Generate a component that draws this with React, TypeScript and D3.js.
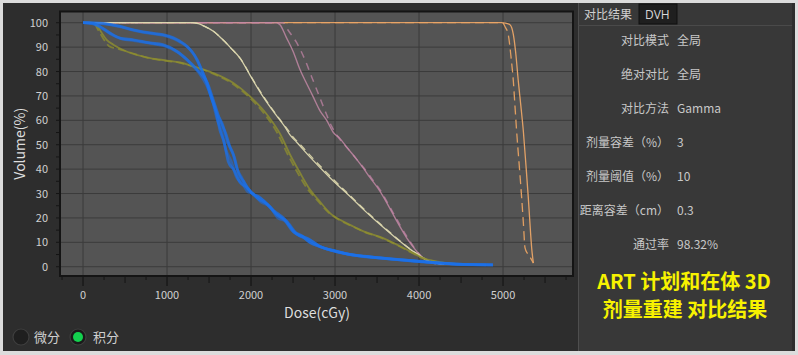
import React from "react";
import * as d3 from "d3";

type Pt = [number, number];

const xTicks = [0, 1000, 2000, 3000, 4000, 5000];
const yTicks = [0, 10, 20, 30, 40, 50, 60, 70, 80, 90, 100];

const blueUpper: Pt[] = [[0,100],[200,99.8],[400,98.8],[600,97.1],[800,95.8],[950,95.1],[1070,93.9],[1150,92.5],[1240,90.3],[1300,88],[1360,84.8],[1420,80],[1480,75],[1530,69],[1580,64],[1630,56],[1680,51],[1730,43],[1800,39.5],[1870,34.5],[1950,32.5],[2010,30.2],[2100,27.5],[2200,25.5],[2300,21.5],[2400,19],[2500,14.5],[2600,12.8],[2700,10],[2820,8.3],[2950,6.8],[3140,5.3],[3350,4.3],[3540,3.6],[3800,2.8],[4010,2.2],[4250,1.5],[4450,1.1],[4700,0.9],[4880,0.8]];
const blueUpper2: Pt[] = [[0,100],[220,99.6],[420,98.5],[620,96.8],[820,95.5],[960,94.8],[1080,93.4],[1160,92],[1250,89.8],[1320,87],[1380,83],[1440,78.5],[1500,72],[1545,67.5],[1600,60],[1645,56],[1700,48],[1760,43.5],[1830,36.5],[1900,34],[1970,30.5],[2010,30.2],[2120,26.5],[2230,24.5],[2320,20],[2420,18.5],[2520,13.8],[2620,12.2],[2720,9.6],[2840,8],[2980,6.5],[3160,5.1],[3540,3.5],[4010,2.1],[4450,1.1],[4880,0.8]];
const blueLower: Pt[] = [[0,100],[100,99.8],[200,98.5],[320,95.8],[440,93.7],[600,93],[800,91.7],[950,91],[1120,88.2],[1240,84.8],[1360,80.7],[1480,75.4],[1550,68.4],[1630,60.2],[1700,54.5],[1750,49],[1800,45],[1850,38.4],[1920,34.5],[2010,30.2],[2100,28.5],[2270,23],[2400,19.5],[2540,13.5],[2680,11.5],[2820,8.3],[3000,6.5],[3140,5.3],[3540,3.6],[4010,2.2],[4450,1.1],[4880,0.8]];
const blueLower2: Pt[] = [[0,100],[120,99.5],[230,97.6],[340,95.2],[460,93.4],[620,92.6],[820,91.4],[970,90.5],[1140,87.6],[1260,84],[1380,79.5],[1470,74.5],[1520,70.5],[1590,63],[1660,58.5],[1720,51],[1780,47],[1830,40.5],[1890,36.5],[1960,32],[2010,30.2],[2150,27],[2290,22],[2420,18.8],[2560,13],[2700,11],[2840,8],[3020,6.3],[3160,5.2],[3540,3.5],[4010,2.1],[4450,1.0],[4800,0.8]];

const oliveSolid: Pt[] = [[0,100],[100,100],[163,99.2],[220,96],[282,93],[361,91],[520,88.2],[800,85.5],[1000,84.5],[1155,83.7],[1313,82.1],[1550,79.4],[1790,75.3],[1988,69.8],[2187,62.5],[2345,54.5],[2464,46],[2583,38.5],[2702,31.6],[2800,27.5],[2940,22],[3100,18.5],[3218,16.5],[3340,14.5],[3536,12.2],[3655,10.4],[3800,8],[3933,5.6],[4050,3.5],[4200,2.2],[4400,1.3],[4550,1]];
const oliveDashed: Pt[] = [[0,100],[120,100],[190,96.5],[260,92.5],[320,90.2],[420,89.3],[560,87.8],[820,85.2],[1010,84.3],[1160,83.5],[1320,81.9],[1540,79.2],[1770,75.2],[1960,70],[2150,63],[2310,55],[2430,46.5],[2550,38.8],[2670,32],[2780,27.6],[2920,22.3],[3080,18.6],[3210,16.5],[3340,14.4],[3536,12],[3660,10.2],[3800,7.8],[3930,5.4],[4050,3.4],[4200,2.1],[4400,1.2],[4550,1]];

const creamSolid: Pt[] = [[0,100],[1300,100],[1353,99.8],[1450,98.5],[1552,96.5],[1650,93.5],[1750,90],[1869,85.5],[1988,78.5],[2147,69.5],[2306,61.8],[2400,57.5],[2464,54],[2544,51],[2700,45],[2940,36.5],[3218,27.5],[3337,23.5],[3496,18.5],[3734,11.5],[3900,7],[4012,4.5],[4100,2.5],[4200,1.5],[4300,1]];
const creamDashed: Pt[] = [[0,100],[1310,100],[1360,99.7],[1460,98.3],[1560,96.3],[1660,93.2],[1760,89.6],[1880,85],[2000,78],[2160,69.2],[2330,61],[2430,56.5],[2500,53.2],[2580,50.3],[2740,44.3],[2980,35.8],[3250,26.8],[3370,22.8],[3530,17.8],[3760,11],[3920,6.6],[4030,4.2],[4110,2.4],[4200,1.5],[4300,1]];

const pinkSolid: Pt[] = [[0,100],[2300,100],[2345,99.2],[2420,94],[2504,88],[2580,81],[2663,75],[2742,69.5],[2820,64],[2901,60],[2980,55],[3060,52.5],[3139,49],[3258,44],[3337,40.4],[3417,36.5],[3536,30.9],[3620,26],[3694,21.3],[3780,16],[3853,11.8],[3972,6.3],[4050,3.5],[4120,2],[4200,1.2]];
const pinkDashed: Pt[] = [[0,100],[2380,100],[2440,97],[2540,92],[2640,85],[2720,78],[2800,71],[2880,64],[2960,57.5],[3040,53],[3139,49],[3258,44],[3337,40.8],[3430,36.5],[3536,31.5],[3694,22],[3853,12.5],[3972,6.5],[4050,3.5],[4200,1.2]];

const orangeSolid: Pt[] = [[0,100],[4980,100],[5030,99.8],[5083,99.2],[5123,95.1],[5150,88],[5182,76],[5212,66],[5242,55.5],[5272,42],[5301,28.2],[5320,18],[5341,7.7],[5361,1.5]];
const orangeDashed: Pt[] = [[0,100],[4990,100],[5030,98],[5063,95],[5095,86],[5123,76],[5142,66],[5162,55.5],[5192,42],[5222,28.2],[5242,18],[5262,7.7],[5290,5.5],[5321,4],[5361,1.5]];

const infoLabels = ["对比模式", "绝对对比", "对比方法", "剂量容差（%）", "剂量阈值（%）", "距离容差（cm）", "通过率"];
const infoValues = ["全局", "全局", "Gamma", "3", "10", "0.3", "98.32%"];

const W = 798, H = 355;
const plot = { left: 60, top: 11.5, right: 573, bottom: 276 };
const x = d3.scaleLinear().domain([-274, 5833]).range([plot.left, plot.right]);
const y = d3.scaleLinear().domain([-3.8, 104.6]).range([plot.bottom, plot.top]);
const line = d3.line<Pt>().x(d => x(d[0])).y(d => y(d[1])).curve(d3.curveMonotoneX);

const FONT = "'Noto Sans CJK SC', 'Noto Sans', sans-serif";

export default function App() {
  const minorX = d3.range(-250, 5834, 250).filter(v => v % 1000 !== 0);
  const minorY = d3.range(5, 101, 10);
  const series: { d: Pt[]; c: string; w: number; o: number; dash?: string }[] = [
    { d: orangeDashed, c: "#e8a262", w: 1.3, o: 0.95, dash: "9,5" },
    { d: orangeSolid, c: "#eaa567", w: 1.3, o: 0.95 },
    { d: pinkDashed, c: "#b8809f", w: 1.5, o: 0.8, dash: "7,6" },
    { d: pinkSolid, c: "#c58aa8", w: 1.4, o: 0.8 },
    { d: creamDashed, c: "#d9d4a6", w: 1.3, o: 0.95, dash: "7,5" },
    { d: creamSolid, c: "#ddd8b0", w: 1.3, o: 0.95 },
    { d: oliveDashed, c: "#8f8f2e", w: 1.8, o: 0.75, dash: "8,4" },
    { d: oliveSolid, c: "#8e8e30", w: 1.8, o: 0.8 },
    { d: blueLower2, c: "#1a6ee6", w: 2.8, o: 0.55 },
    { d: blueUpper2, c: "#1a6ee6", w: 2.8, o: 0.55 },
    { d: blueLower, c: "#1b70ea", w: 2.8, o: 0.7 },
    { d: blueUpper, c: "#1b70ea", w: 2.8, o: 0.7 },
  ];
  const rowY = [41, 75, 109, 143, 177, 211, 245];
  return (
    <svg width={W} height={H} style={{ position: "absolute", left: 0, top: 0, display: "block" }} fontFamily={FONT}>
      <rect x={0} y={0} width={W} height={H} fill="#dcdcdc" />
      <rect x={3} y={3} width={W - 6} height={H - 7} fill="#2d2d2d" />
      <rect x={578} y={3} width={214} height={H - 7} fill="#383838" />
      <line x1={578.5} x2={578.5} y1={3} y2={H - 4} stroke="#4e4e4e" />
      <line x1={578} x2={792} y1={25.5} y2={25.5} stroke="#4a4a4a" />
      <rect x={639} y={4} width={38} height={20} fill="#1f1f1f" stroke="#111" />
      <text x={584} y={19} fontSize={12} fill="#d0d0d0">对比结果</text>
      <text x={645} y={19} fontSize={12} fill="#d8d8d8" fontFamily="'Open Sans', sans-serif">DVH</text>
      {infoLabels.map((l, i) => (
        <g key={l}>
          <text x={669} y={rowY[i] + 4} fontSize={12} fill="#c8c8c8" textAnchor="end">{l}</text>
          <text x={677} y={rowY[i] + 4} fontSize={12} fill="#c8c8c8">{infoValues[i]}</text>
        </g>
      ))}
      <text x={684} y={289} fontSize={20} fontWeight="bold" fill="#f7f200" textAnchor="middle">ART 计划和在体 3D</text>
      <text x={685} y={317} fontSize={20} fontWeight="bold" fill="#f7f200" textAnchor="middle">剂量重建 对比结果</text>

      <rect x={plot.left} y={plot.top} width={plot.right - plot.left} height={plot.bottom - plot.top} fill="#545454" />
      <defs>
        <clipPath id="pc"><rect x={plot.left} y={plot.top} width={plot.right - plot.left} height={plot.bottom - plot.top} /></clipPath>
      </defs>
      {xTicks.map(t => (
        <line key={"gx" + t} x1={x(t)} x2={x(t)} y1={plot.top} y2={plot.bottom} stroke="#3b3b3b" strokeWidth={1} />
      ))}
      {yTicks.map(t => (
        <line key={"gy" + t} x1={plot.left} x2={plot.right} y1={y(t)} y2={y(t)} stroke="#3b3b3b" strokeWidth={1} />
      ))}
      <g clipPath="url(#pc)">
        {series.map((s, i) => (
          <path key={i} d={line(s.d) || ""} fill="none" stroke={s.c} strokeWidth={s.w} strokeOpacity={s.o}
            strokeDasharray={s.dash} strokeLinejoin="round" />
        ))}
      </g>
      <rect x={plot.left} y={plot.top} width={plot.right - plot.left} height={plot.bottom - plot.top} fill="none" stroke="#141414" strokeWidth={2} />
      {xTicks.map(t => (
        <g key={"tx" + t}>
          <line x1={x(t)} x2={x(t)} y1={plot.bottom + 1} y2={plot.bottom + 10} stroke="#151515" strokeWidth={1.2} />
          <text x={x(t)} y={299} fontSize={11} fill="#d0d0d0" textAnchor="middle">{t}</text>
        </g>
      ))}
      {minorX.map(t => (
        <line key={"mx" + t} x1={x(t)} x2={x(t)} y1={plot.bottom + 1} y2={plot.bottom + (t % 500 === 0 ? 7 : 4)} stroke="#151515" />
      ))}
      {yTicks.map(t => (
        <g key={"ty" + t}>
          <line x1={plot.left - 4} x2={plot.left} y1={y(t)} y2={y(t)} stroke="#151515" />
          <text x={48} y={y(t) + 4} fontSize={11} fill="#d0d0d0" textAnchor="end">{t}</text>
        </g>
      ))}
      {minorY.map(t => (
        <line key={"my" + t} x1={plot.left - 4} x2={plot.left} y1={y(t)} y2={y(t)} stroke="#151515" />
      ))}
      <text x={20} y={(plot.top + plot.bottom) / 2} fontSize={14} fill="#dedede" textAnchor="middle"
        transform={`rotate(-90, 20, ${(plot.top + plot.bottom) / 2})`} dy={5}>Volume(%)</text>
      <text x={317} y={318} fontSize={14} fill="#dedede" textAnchor="middle">Dose(cGy)</text>

      <circle cx={21} cy={337} r={8} fill="#1f1f1f" stroke="#3e3e3e" strokeWidth={1.2} />
      <text x={34} y={342} fontSize={13} fill="#d0d0d0">微分</text>
      <circle cx={78} cy={337} r={8} fill="#1a1a1a" stroke="#3e3e3e" strokeWidth={1.2} />
      <circle cx={78} cy={337} r={5} fill="#13d04e" />
      <text x={93} y={342} fontSize={13} fill="#d0d0d0">积分</text>
    </svg>
  );
}
